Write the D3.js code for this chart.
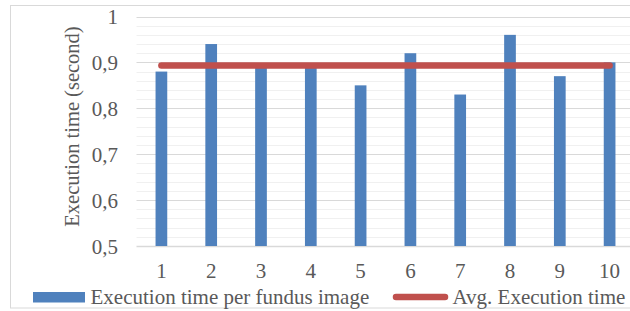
<!DOCTYPE html>
<html>
<head>
<meta charset="utf-8">
<script src="https://cdn.jsdelivr.net/npm/d3@7"></script>
<style>
  html, body { margin: 0; padding: 0; background: #fff; }
  svg { display: block; }
  text { font-family: "Liberation Serif", "DejaVu Serif", serif; fill: #595959; }
</style>
</head>
<body>
<svg id="chart" width="630" height="311"></svg>
<script>
const categories = ["1", "2", "3", "4", "5", "6", "7", "8", "9", "10"];
const execTimes = [0.88, 0.94, 0.89, 0.89, 0.85, 0.92, 0.83, 0.96, 0.87, 0.90];
const avgTimes = [0.893, 0.893, 0.893, 0.893, 0.893, 0.893, 0.893, 0.893, 0.893, 0.893];
const yTicks = [0.5, 0.6, 0.7, 0.8, 0.9, 1.0];
const yMinorTicks = d3.range(0.5, 1.0001, 0.02);
const seriesNames = ["Execution time per fundus image", "Avg. Execution time"];
const yTitle = "Execution time (second)";

const svg = d3.select("#chart");
const FONT = "'Liberation Serif', 'DejaVu Serif', serif";

// outer frame (extends beyond right edge as in reference)
svg.append("rect")
  .attr("x", 10.5).attr("y", 5.5)
  .attr("width", 640).attr("height", 302.5)
  .attr("fill", "#fff").attr("stroke", "#D9D9D9").attr("stroke-width", 1);

const x = d3.scaleBand().domain(categories).range([136.5, 634.5]).padding(0);
const y = d3.scaleLinear().domain([0.5, 1.0]).range([246, 16.5]);

const fmt = v => (v === 1 ? "1" : d3.format(".1f")(v).replace(".", ","));

// minor gridlines
svg.append("g").selectAll("line")
  .data(yMinorTicks.filter(v => !yTicks.some(t => Math.abs(t - v) < 1e-6)))
  .join("line")
  .attr("x1", 136.5).attr("x2", 640)
  .attr("y1", d => Math.round(y(d)) + 0.5).attr("y2", d => Math.round(y(d)) + 0.5)
  .attr("stroke", "#F0F0F0").attr("stroke-width", 1);

// major gridlines
svg.append("g").selectAll("line")
  .data(yTicks)
  .join("line")
  .attr("x1", 136.5).attr("x2", 640)
  .attr("y1", d => Math.round(y(d)) + 0.5).attr("y2", d => Math.round(y(d)) + 0.5)
  .attr("stroke", "#D9D9D9").attr("stroke-width", d => d === 0.5 ? 1.5 : 1);

// y axis labels
const yAxis = d3.axisLeft(y).tickValues(yTicks).tickFormat(fmt).tickSize(0).tickPadding(0);
const gy = svg.append("g").attr("transform", "translate(118,0)").call(yAxis)
  .attr("font-family", FONT).attr("font-size", 21);
gy.select(".domain").remove();
gy.selectAll("text")
  .attr("fill", "#595959")
  .attr("dy", "0.35em").attr("x", 0);

// x axis labels
const xAxis = d3.axisBottom(x).tickSize(0).tickPadding(0);
const gx = svg.append("g").attr("transform", "translate(0,246)").call(xAxis)
  .attr("font-family", FONT).attr("font-size", 21);
gx.select(".domain").remove();
gx.selectAll("text")
  .attr("fill", "#595959")
  .attr("dy", 0).attr("y", 32);

// bars
const barW = x.bandwidth() * 0.235;
svg.append("g").selectAll("rect")
  .data(execTimes)
  .join("rect")
  .attr("x", (d, i) => x(categories[i]) + x.bandwidth() / 2 - barW / 2)
  .attr("width", barW)
  .attr("y", d => y(d))
  .attr("height", d => y(0.5) - y(d))
  .attr("fill", "#4F81BD");

// average line
const line = d3.line()
  .x((d, i) => x(categories[i]) + x.bandwidth() / 2)
  .y(d => y(d));
svg.append("path")
  .datum(avgTimes)
  .attr("d", line)
  .attr("fill", "none")
  .attr("stroke", "#C0504D")
  .attr("stroke-width", 6.5)
  .attr("stroke-linecap", "round");

// y title
svg.append("text")
  .attr("transform", "translate(78.5,126.5) rotate(-90)")
  .attr("text-anchor", "middle")
  .attr("font-size", 20.5)
  .text(yTitle);

// legend
const lg = svg.append("g").attr("font-size", 21);
lg.append("rect").attr("x", 33).attr("y", 292).attr("width", 52).attr("height", 10.5).attr("fill", "#4F81BD");
lg.append("text").attr("x", 90.5).attr("y", 304).text(seriesNames[0]);
lg.append("line").attr("x1", 396).attr("x2", 445).attr("y1", 297).attr("y2", 297)
  .attr("stroke", "#C0504D").attr("stroke-width", 6.5).attr("stroke-linecap", "round");
lg.append("text").attr("x", 452.5).attr("y", 304).text(seriesNames[1]);
</script>
</body>
</html>
